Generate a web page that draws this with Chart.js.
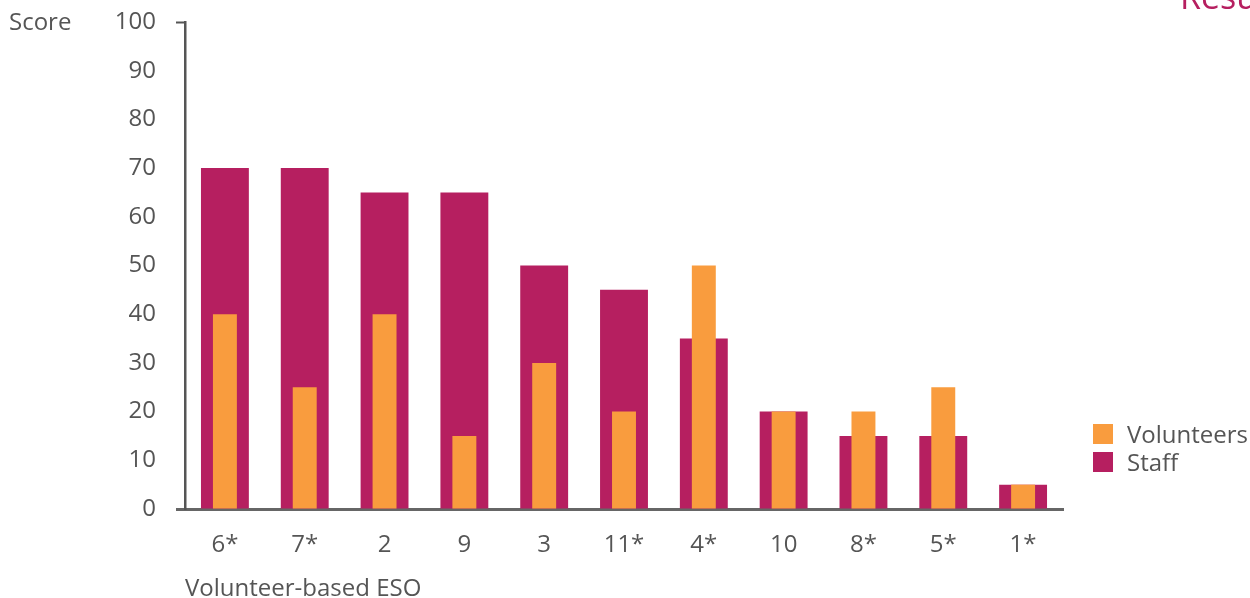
<!DOCTYPE html>
<html>
<head>
<meta charset="utf-8">
<script src="https://cdn.jsdelivr.net/npm/chart.js@4.4.1/dist/chart.umd.min.js"></script>
<style>
  html, body { margin: 0; padding: 0; background: #fff; overflow: hidden; }
  #wrap { position: relative; width: 1250px; height: 598px; font-family: "Open Sans", sans-serif; color: #555; }
  #chart { position: absolute; left: 0; top: 0; }
  .lbl { position: absolute; font-size: 24px; line-height: 26px; white-space: nowrap; }
  .legend { position: absolute; left: 1093px; font-size: 24px; line-height: 20px; white-space: nowrap; }
  .legend span { display: inline-block; width: 20px; height: 20px; vertical-align: top; margin-right: 14px; }
</style>
</head>
<body>
<div id="wrap">
  <canvas id="chart" width="1250" height="598"></canvas>
  <div class="lbl" style="left:9px; top:8px;">Score</div>
  <div class="lbl" style="left:1180px; top:-24px; font-size:34px; line-height:40px; color:#B61F60;">Results</div>
  <div class="legend" style="top:424px;"><span style="background:#F99C3E"></span>Volunteers</div>
  <div class="legend" style="top:452px;"><span style="background:#B61F60"></span>Staff</div>
</div>
<script>
// Datos del gráfico
const categories = ['6*', '7*', '2', '9', '3', '11*', '4*', '10', '8*', '5*', '1*'];
const volunteers = [40, 25, 40, 15, 30, 20, 50, 20, 20, 25, 5];
const staff = [70, 70, 65, 65, 50, 45, 35, 20, 15, 15, 5];
const yTicks = [0, 10, 20, 30, 40, 50, 60, 70, 80, 90, 100];

const textColor = '#555';
const font24 = { family: '"Open Sans", sans-serif', size: 24 };

new Chart(document.getElementById('chart'), {
    type: 'bar',
    data: {
        labels: categories,
        datasets: [
            {
                label: 'Volunteers',
                data: volunteers,
                backgroundColor: '#F99C3E',
                grouped: false,
                barPercentage: 0.3,
                categoryPercentage: 1
            },
            {
                label: 'Staff',
                data: staff,
                backgroundColor: '#B61F60',
                grouped: false,
                barPercentage: 0.6,
                categoryPercentage: 1
            }
        ]
    },
    options: {
        responsive: false,
        animation: false,
        layout: { padding: { top: 22, right: 187, left: 0, bottom: 0 } },
        plugins: { legend: { display: false }, tooltip: { enabled: false } },
        scales: {
            x: {
                grid: { display: false, drawTicks: false },
                border: { display: true, color: '#666', width: 3 },
                ticks: { color: textColor, font: font24, padding: 22 },
                title: {
                    display: true,
                    text: 'Volunteer-based ESO',
                    align: 'start',
                    color: textColor,
                    font: font24,
                    padding: { top: 0, bottom: -6 }
                },
                afterFit: (scale) => { scale.height = 89; }
            },
            y: {
                min: 0,
                max: 100,
                afterBuildTicks: (scale) => { scale.ticks = yTicks.map(v => ({ value: v })); },
                grid: {
                    drawOnChartArea: false,
                    drawTicks: true,
                    tickLength: 9,
                    tickColor: (ctx) => (ctx.tick && ctx.tick.value === 0) ? '#666' : (ctx.tick && ctx.tick.value === 100 ? '#555' : 'rgba(0,0,0,0)'),
                    tickWidth: (ctx) => (ctx.tick && ctx.tick.value === 0) ? 3 : 2
                },
                border: { display: true, color: '#555', width: 2.5 },
                ticks: { color: textColor, font: font24, padding: 20 },
                afterFit: (scale) => {
                    scale.width = 185;
                    scale.paddingTop = 0;
                    scale.paddingBottom = 0;
                }
            }
        }
    }
});
</script>
</body>
</html>
